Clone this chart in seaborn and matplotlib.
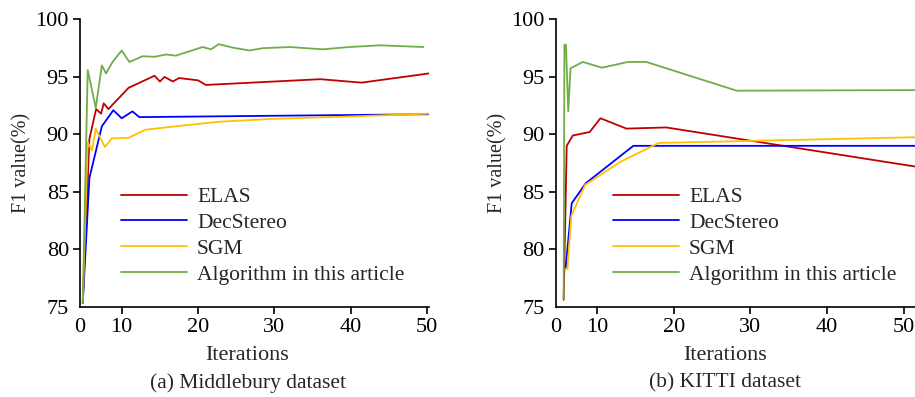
import matplotlib
matplotlib.use("Agg")
import matplotlib.pyplot as plt
import seaborn as sns
import pandas as pd

# ─── Data ─────────────────────────────────────────────────────────────────────
SERIES = ["ELAS", "DecStereo", "SGM", "Algorithm in this article"]
COLORS = ["#C00000", "#0000FF", "#FFC000", "#70AD47"]

# (a) Middlebury
mb_elas_x = [4.9, 5.77, 6.65, 7.3, 7.64, 8.26, 10.9, 14.3, 15.0, 15.6, 16.7, 17.5, 20.0, 21.0, 36.0, 41.4, 50.2]
mb_elas_y = [75.3, 89.6, 92.2, 91.8, 92.7, 92.2, 94.05, 95.1, 94.6, 95.0, 94.6, 94.9, 94.7, 94.3, 94.8, 94.5, 95.3]
mb_dec_x = [4.9, 5.77, 7.4, 8.9, 10.0, 11.4, 12.3, 50.1]
mb_dec_y = [75.3, 86.2, 90.7, 92.1, 91.4, 92.0, 91.5, 91.75]
mb_sgm_x = [4.9, 5.55, 6.1, 6.6, 7.8, 8.7, 10.9, 13.1, 17.1, 22.8, 29.8, 39.8, 50.1]
mb_sgm_y = [75.4, 89.3, 88.6, 90.5, 88.9, 89.65, 89.7, 90.4, 90.7, 91.1, 91.35, 91.55, 91.8]
mb_ours_x = [4.9, 5.55, 6.6, 7.4, 7.95, 8.8, 10.0, 11.0, 12.75, 14.3, 15.8, 17.1, 20.6, 21.7,
             22.7, 24.5, 26.7, 28.5, 32.0, 36.3, 39.8, 43.8, 49.5]
mb_ours_y = [75.3, 95.6, 92.3, 96.0, 95.3, 96.3, 97.3, 96.3, 96.8, 96.75, 96.95, 96.85, 97.6, 97.4,
             97.85, 97.55, 97.3, 97.5, 97.6, 97.4, 97.6, 97.75, 97.6]

# (b) KITTI
kt_elas_x = [5.6, 6.0, 6.8, 9.0, 10.4, 13.8, 19.0, 51.5]
kt_elas_y = [75.6, 89.0, 89.9, 90.2, 91.4, 90.5, 90.6, 87.2]
kt_dec_x = [5.85, 6.65, 8.5, 14.7, 51.5]
kt_dec_y = [78.3, 84.0, 85.75, 89.0, 89.0]
kt_sgm_x = [5.85, 6.1, 6.6, 8.4, 13.0, 18.0, 51.5]
kt_sgm_y = [78.3, 78.3, 82.9, 85.6, 87.6, 89.25, 89.75]
kt_ours_x = [5.6, 5.7, 5.9, 6.2, 6.5, 8.1, 10.6, 14.0, 16.4, 28.2, 51.5]
kt_ours_y = [75.7, 97.8, 97.8, 92.0, 95.75, 96.3, 95.8, 96.3, 96.3, 93.8, 93.85]

X_TICKS = [10, 20, 30, 40, 50]
X_TICKLABELS = ["0", "10", "20", "30", "40", "50"]
Y_TICKS = [75, 80, 85, 90, 95, 100]
# ──────────────────────────────────────────────────────────────────────────────

sns.set_style("ticks")
plt.rcParams["font.family"] = ["Liberation Serif", "DejaVu Serif"]
plt.rcParams["xtick.direction"] = "out"
plt.rcParams["ytick.direction"] = "out"


def draw_panel(ax, xs, ys, x0, x1):
    for name, color, x, y in zip(SERIES, COLORS, xs, ys):
        df = pd.DataFrame({"Iterations": x, "F1": y})
        sns.lineplot(data=df, x="Iterations", y="F1", ax=ax, color=color,
                     label=name, sort=False, estimator=None, linewidth=1.3)
    ax.set_xlim(x0, x1)
    ax.set_ylim(75, 100)
    ax.set_xticks([x0] + X_TICKS)
    ax.set_xticklabels(X_TICKLABELS)
    ax.set_yticks(Y_TICKS)
    ax.tick_params(labelsize=16, length=5, width=1.2, pad=3, colors="black")
    ax.xaxis.get_major_ticks()[0].tick1line.set_visible(False)
    ax.yaxis.get_major_ticks()[0].tick1line.set_visible(False)
    for s in ["left", "bottom"]:
        ax.spines[s].set_linewidth(1.2)
        ax.spines[s].set_color("black")
    sns.despine(ax=ax)
    ax.set_xlabel("")
    ax.set_ylabel("F1 value(%)", fontsize=14.5, labelpad=3)
    ax.get_legend().remove()


fig = plt.figure(figsize=(9.15, 3.97), dpi=100)
ax1 = fig.add_axes([80 / 915, 0.2275, 348.8 / 915, 0.7235])
ax2 = fig.add_axes([555.7 / 915, 0.2275, 359.3 / 915, 0.7235])

draw_panel(ax1,
           [mb_elas_x, mb_dec_x, mb_sgm_x, mb_ours_x],
           [mb_elas_y, mb_dec_y, mb_sgm_y, mb_ours_y],
           4.54, 50.2)
draw_panel(ax2,
           [kt_elas_x, kt_dec_x, kt_sgm_x, kt_ours_x],
           [kt_elas_y, kt_dec_y, kt_sgm_y, kt_ours_y],
           4.56, 51.5)

for ax, lx in [(ax1, 120.7 / 915), (ax2, 612.7 / 915)]:
    handles, labels = ax.get_legend_handles_labels()
    fig.legend(handles, labels, loc="upper left", bbox_to_anchor=(lx, 0.529),
               frameon=False, fontsize=15.5, handlelength=3.1, handletextpad=0.45,
               labelspacing=0.27, borderpad=0, borderaxespad=0)

fig.text(247 / 915, 1 - 355 / 397, "Iterations", ha="center", va="center", fontsize=16)
fig.text(725 / 915, 1 - 355 / 397, "Iterations", ha="center", va="center", fontsize=16)
fig.text(248 / 915, 1 - 383 / 397, "(a) Middlebury dataset", ha="center", va="center", fontsize=15.5)
fig.text(725 / 915, 1 - 383 / 397, "(b) KITTI dataset", ha="center", va="center", fontsize=15.5)

fig.savefig("out.png", dpi=100)
